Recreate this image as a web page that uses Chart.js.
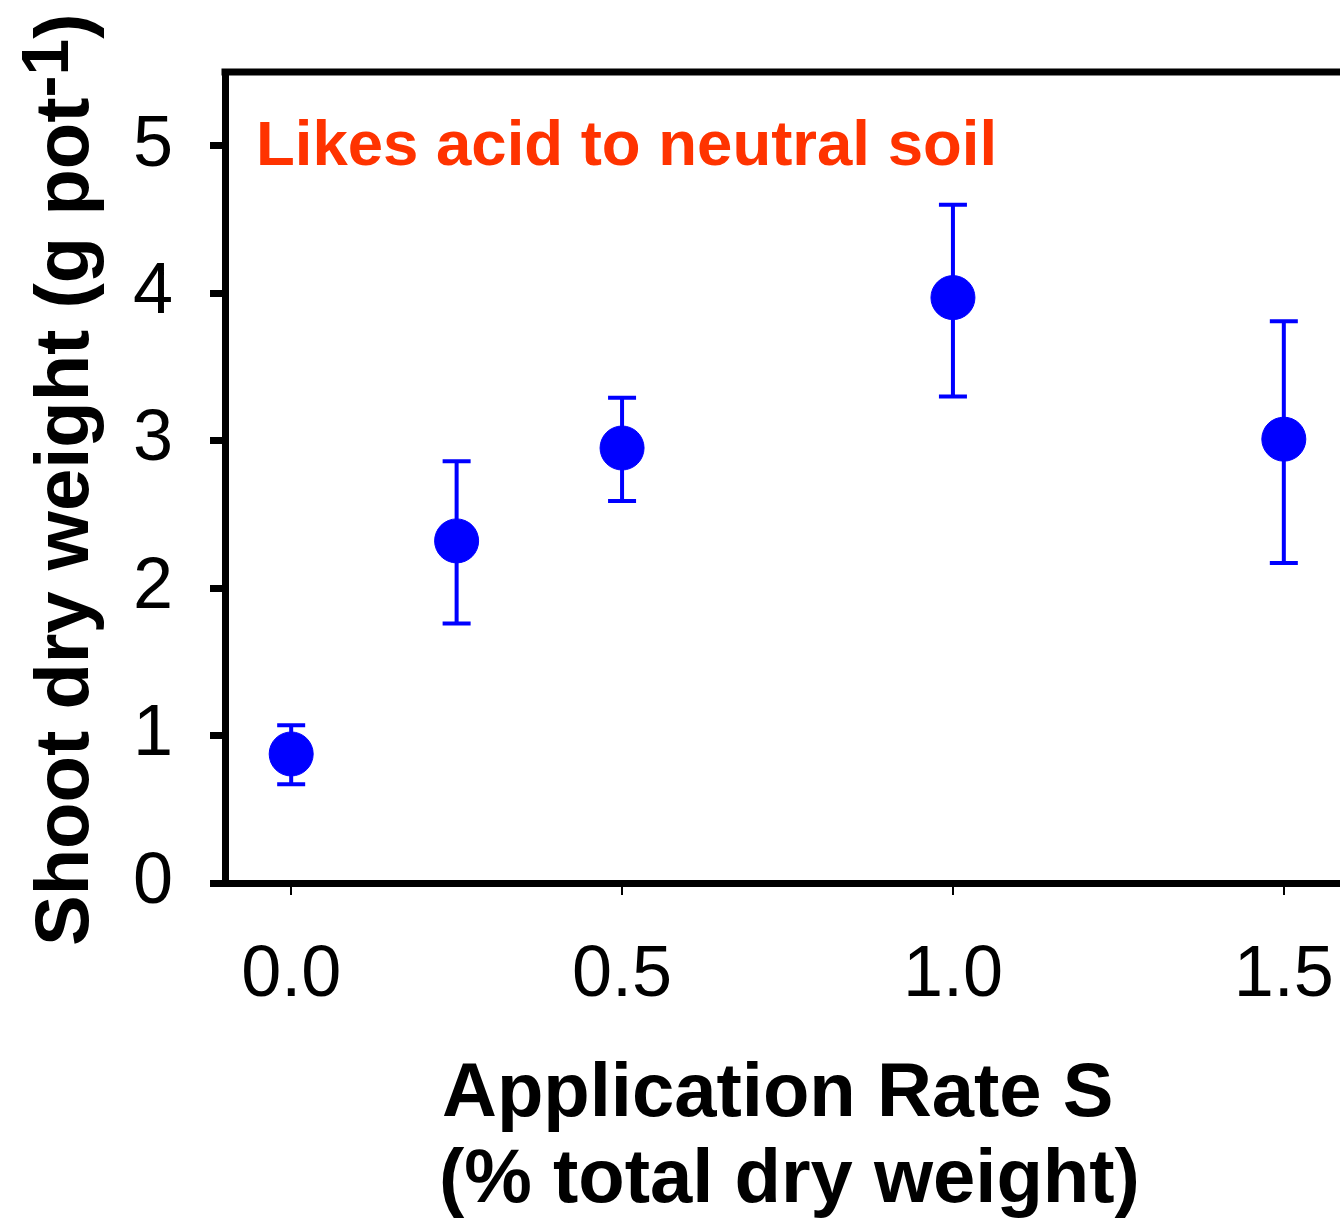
<!DOCTYPE html>
<html>
<head>
<meta charset="utf-8">
<title>Shoot dry weight vs application rate</title>
<script src="https://cdn.jsdelivr.net/npm/chart.js"></script>
<style>
  html, body { margin: 0; padding: 0; background: #ffffff; overflow: hidden; }
</style>
</head>
<body>
<canvas id="myChart" width="1400" height="1219"></canvas>
<script>
// data
var rateS = [0, 0.25, 0.5, 1.0, 1.5];
var shootWeight = [0.875, 2.32, 2.95, 3.97, 3.01];
var errUpper = [1.07, 2.86, 3.29, 4.60, 3.81];
var errLower = [0.67, 1.76, 2.59, 3.30, 2.17];
var xTickValues = [0, 0.5, 1.0, 1.5];
var yTickValues = [0, 1, 2, 3, 4, 5];

var fontFam = '"Liberation Sans", Arial, Helvetica, sans-serif';
const ctx = document.getElementById('myChart');

var points = [];
rateS.forEach((x, i) => {
    points.push({ x: x, y: shootWeight[i] });
});

// error bars, drawn under the markers
var errorBars = {
    id: 'errorBars',
    beforeDatasetsDraw(chart) {
        var c = chart.ctx;
        var xs = chart.scales.x, ys = chart.scales.y;
        c.save();
        c.strokeStyle = '#0000ff';
        c.lineWidth = 4;
        rateS.forEach((x, i) => {
            var px = xs.getPixelForValue(x);
            var top = ys.getPixelForValue(errUpper[i]);
            var bot = ys.getPixelForValue(errLower[i]);
            c.beginPath();
            c.moveTo(px, top); c.lineTo(px, bot);
            c.moveTo(px - 14, top); c.lineTo(px + 14, top);
            c.moveTo(px - 14, bot); c.lineTo(px + 14, bot);
            c.stroke();
        });
        c.restore();
    }
};

// top frame line, axis titles and the note
var extras = {
    id: 'extras',
    afterDraw(chart) {
        var c = chart.ctx;
        var area = chart.chartArea;
        c.save();
        c.strokeStyle = '#000000';
        c.lineWidth = 7;
        c.beginPath();
        c.moveTo(area.left - 3.5, area.top);
        c.lineTo(area.right, area.top);
        c.stroke();

        c.fillStyle = '#ff3300';
        c.font = 'bold 63.5px ' + fontFam;
        c.textAlign = 'left';
        c.textBaseline = 'alphabetic';
        c.fillText('Likes acid to neutral soil', area.left + 31, 165);

        c.fillStyle = '#000000';
        c.font = 'bold 76px ' + fontFam;
        c.fillText('Application Rate S', area.left + 217, 1116);
        c.fillText('(% total dry weight)', area.left + 214, 1202);

        // y title, rotated, with superscript -1
        c.translate(88, 946);
        c.rotate(-Math.PI / 2);
        var main = 'Shoot dry weight (g pot';
        c.font = 'bold 76px ' + fontFam;
        c.fillText(main, 0, 0);
        var w = c.measureText(main).width;
        c.font = 'bold 66px ' + fontFam;
        c.fillText('-1', w, -20);
        w += c.measureText('-1').width;
        c.font = 'bold 76px ' + fontFam;
        c.fillText(')', w, 0);
        c.restore();
    }
};

new Chart(ctx, {
    type: 'scatter',
    data: {
        datasets: [{
            label: 'Shoot dry weight',
            data: points,
            backgroundColor: '#0000ff',
            borderColor: '#0000ff',
            pointRadius: 22,
            pointHoverRadius: 22,
            showLine: false
        }]
    },
    options: {
        responsive: false,
        animation: false,
        events: [],
        layout: { padding: { top: 72, right: 50, left: 0, bottom: 0 } },
        plugins: {
            legend: { display: false },
            tooltip: { enabled: false }
        },
        scales: {
            x: {
                type: 'linear',
                min: -0.1,
                max: 1.6,
                afterBuildTicks: function(scale) {
                    scale.ticks = xTickValues.map(v => ({ value: v }));
                },
                afterFit: function(scale) {
                    scale.height = 336;
                    scale.paddingLeft = 0;
                    scale.paddingRight = 0;
                },
                border: { display: true, width: 7, color: '#000000' },
                grid: { drawOnChartArea: false, drawTicks: true, tickLength: 12, lineWidth: 2, color: '#000000' },
                ticks: {
                    color: '#000000',
                    font: { family: fontFam, size: 72 },
                    padding: 38,
                    maxRotation: 0,
                    callback: function(v) { return Number(v).toFixed(1); }
                }
            },
            y: {
                min: 0,
                max: 5.5,
                afterBuildTicks: function(scale) {
                    scale.ticks = yTickValues.map(v => ({ value: v }));
                },
                afterFit: function(scale) {
                    scale.width = 225;
                    scale.paddingTop = 0;
                    scale.paddingBottom = 0;
                },
                border: { display: true, width: 7, color: '#000000' },
                grid: { drawOnChartArea: false, drawTicks: true, tickLength: 15, lineWidth: 7, color: '#000000' },
                ticks: {
                    color: '#000000',
                    font: { family: fontFam, size: 72 },
                    padding: 37,
                    callback: function(v) { return String(v); }
                }
            }
        }
    },
    plugins: [errorBars, extras]
});
</script>
</body>
</html>
